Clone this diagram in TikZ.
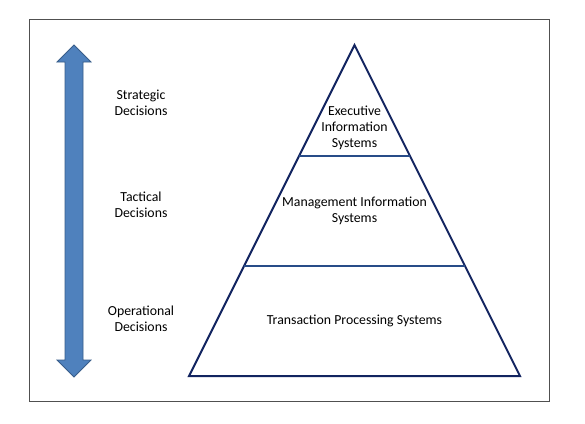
\documentclass[tikz,border=0pt]{standalone}
\usepackage{fontspec}
\setmainfont{Carlito}
\definecolor{navy}{RGB}{18,36,96}
\definecolor{bandline}{RGB}{40,76,136}
\definecolor{arrowfill}{RGB}{79,129,189}
\definecolor{arrowedge}{RGB}{56,93,138}
\definecolor{framecol}{RGB}{80,80,80}
\begin{document}
\begin{tikzpicture}[x=1pt,y=-1pt,
  lbl/.style={align=center,font=\fontsize{13.8}{16}\selectfont,inner sep=0pt},
  tri/.style={draw=navy,line width=2pt,line join=miter},
  band/.style={draw=bandline,line width=2pt},
  bigarrow/.style={fill=arrowfill,draw=arrowedge,line width=0.8pt}]
\useasboundingbox (0,0) rectangle (585,423);
\fill[white] (0,0) rectangle (585,423);
\draw[framecol,line width=1pt] (29,19.5) rectangle (549,401);
% arrow
\coordinate (atop) at (74,45);
\coordinate (abot) at (74,377);
\draw[bigarrow] (atop) -- (91,62) -- (83,62) -- (83,360) -- (91,360) -- (abot)
  -- (57,360) -- (65,360) -- (65,62) -- (57,62) -- cycle;
% triangle
\coordinate (apex) at (354.5,45);
\coordinate (bl) at (189,376);
\coordinate (br) at (520,376);
\draw[tri] (apex) -- (br) -- (bl) -- cycle;
\path (apex) -- (bl) coordinate[pos=0.3353] (s1l) coordinate[pos=0.6677] (s2l);
\path (apex) -- (br) coordinate[pos=0.3353] (s1r) coordinate[pos=0.6677] (s2r);
\draw[band] (s1l) -- (s1r);
\draw[band] (s2l) -- (s2r);
% texts
\node[lbl] (eis) at (354.5,128) {Executive\\Information\\Systems};
\node[lbl] (mis) at (354.5,211) {Management Information\\Systems};
\node[lbl] (tps) at (354.5,321) {Transaction Processing Systems};
\node[lbl] (sd) at (141,103) {Strategic\\Decisions};
\node[lbl] (td) at (141,205) {Tactical\\Decisions};
\node[lbl] (od) at (141,319) {Operational\\Decisions};
\end{tikzpicture}
\end{document}
